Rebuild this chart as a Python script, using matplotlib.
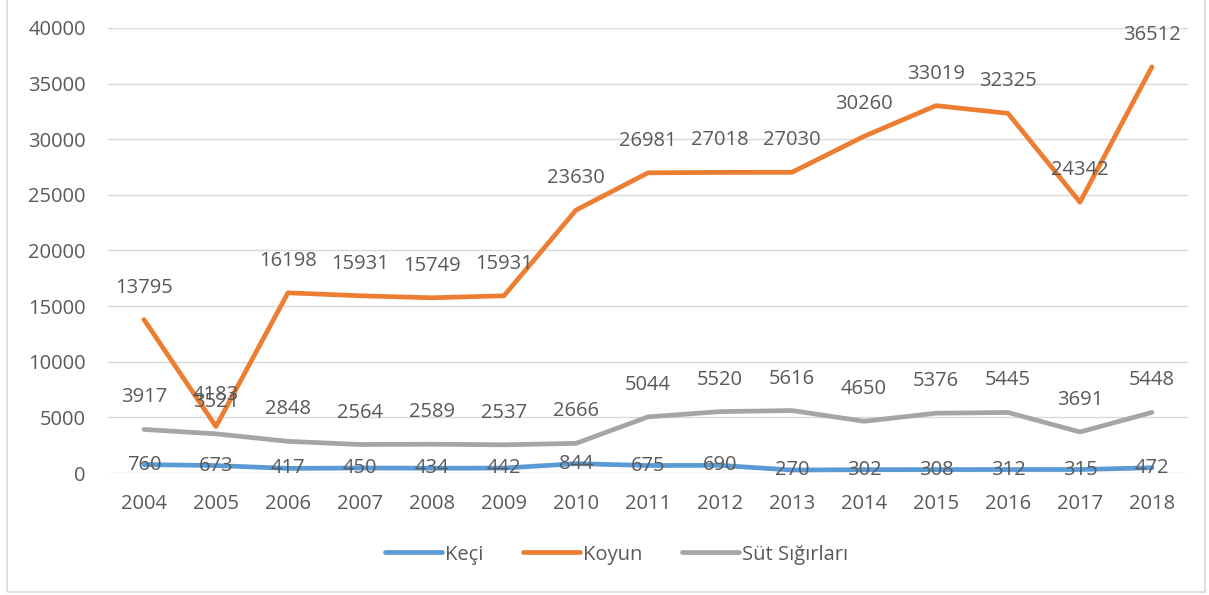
import matplotlib.pyplot as plt
from matplotlib.patches import Rectangle

years = ['2004', '2005', '2006', '2007', '2008', '2009', '2010', '2011',
         '2012', '2013', '2014', '2015', '2016', '2017', '2018']
keci = [760, 673, 417, 450, 434, 442, 844, 675, 690, 270, 302, 308, 312, 315, 472]
koyun = [13795, 4183, 16198, 15931, 15749, 15931, 23630, 26981, 27018, 27030,
         30260, 33019, 32325, 24342, 36512]
sut = [3917, 3521, 2848, 2564, 2589, 2537, 2666, 5044, 5520, 5616, 4650,
       5376, 5445, 3691, 5448]

plt.rcParams['font.family'] = ['Open Sans', 'DejaVu Sans']
txt = '#595959'
fs = 14.5

fig = plt.figure(figsize=(12.09, 5.95), dpi=100)
ax = fig.add_axes([0.0893, 0.205, 0.8933, 0.748])

x = range(len(years))
series = [('Keçi', keci, '#5B9BD5', 0),
          ('Koyun', koyun, '#ED7D31', 23),
          ('Süt Sığırları', sut, '#A5A5A5', 23)]
for name, vals, col, off in series:
    ax.plot(x, vals, color=col, lw=3.4, solid_capstyle='round', label=name)
    for i, v in enumerate(vals):
        ax.annotate(str(v), (i, v), xytext=(0, off), textcoords='offset points',
                    ha='center', va='center', fontsize=fs, color=txt)

ax.set_xlim(-0.5, len(years) - 0.5)
ax.set_ylim(0, 40000)
ax.set_yticks(range(0, 40001, 5000))
ax.set_xticks(list(x))
ax.set_xticklabels(years)
ax.tick_params(length=0, labelsize=fs, labelcolor=txt)
ax.tick_params(axis='x', pad=15)
ax.tick_params(axis='y', pad=16)
ax.grid(axis='y', color='#D9D9D9', lw=1)
ax.set_axisbelow(True)
for s in ax.spines.values():
    s.set_visible(False)

fig.legend(loc='center', bbox_to_anchor=(0.51, 0.068), ncol=3, frameon=False,
           fontsize=fs, labelcolor=txt, handlelength=2.8, handletextpad=0.15,
           columnspacing=2.0)

fig.patches.append(Rectangle((7 / 1209, 3 / 595), 1198 / 1209, 600 / 595,
                             transform=fig.transFigure, fill=False,
                             edgecolor='#D9D9D9', lw=1.2))

fig.savefig('out.png', dpi=100)
